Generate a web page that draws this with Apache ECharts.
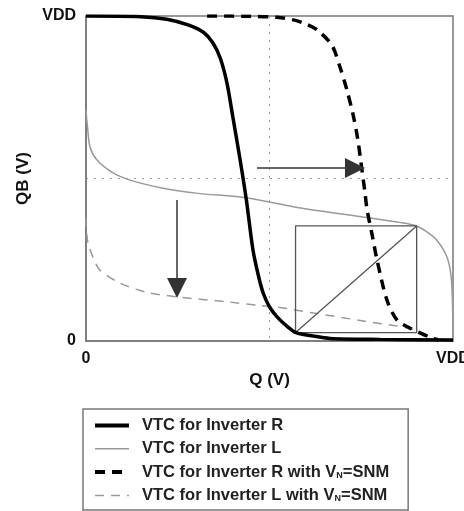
<!DOCTYPE html>
<html lang="en">
<head>
    <meta charset="UTF-8">
    <title>VTC butterfly</title>
    <style>
        * { padding: 0; margin: 0; box-sizing: border-box; }
        html, body, #chart { width: 100%; height: 100%; background: #fff; }
    </style>
</head>
<body>
    <div id="chart"></div>
    <script src="https://cdn.jsdelivr.net/npm/echarts@6/dist/echarts.min.js"></script>
    <script>
        // legend names
        const names = [
            'VTC for Inverter R',
            'VTC for Inverter L',
            'VTC for Inverter R with VN=SNM',
            'VTC for Inverter L with VN=SNM'
        ]

        // curves, x = Q / VDD, y = QB / VDD
        const vtcR = [[0, 1], [0.15, 0.998], [0.22, 0.99], [0.28, 0.972], [0.32, 0.95], [0.346, 0.917], [0.366, 0.87],
            [0.384, 0.794], [0.40, 0.69], [0.42, 0.557], [0.437, 0.434], [0.455, 0.28], [0.47, 0.2], [0.483, 0.147],
            [0.5, 0.105], [0.52, 0.075], [0.545, 0.048], [0.572, 0.026], [0.62, 0.015], [0.665, 0.008], [0.8, 0.005], [1, 0.003]]

        const vtcL = [[0, 0.71], [0.004, 0.66], [0.011, 0.597], [0.03, 0.557], [0.074, 0.517], [0.12, 0.495], [0.21, 0.47],
            [0.30, 0.455], [0.44, 0.44], [0.58, 0.41], [0.765, 0.38], [0.855, 0.365], [0.901, 0.354], [0.93, 0.335],
            [0.956, 0.31], [0.983, 0.26], [0.995, 0.197], [0.999, 0.1], [1, 0]]

        const vtcRsnm = [[0.33, 1], [0.45, 0.999], [0.52, 0.996], [0.565, 0.988], [0.6, 0.975], [0.63, 0.957], [0.67, 0.91],
            [0.692, 0.843], [0.711, 0.772], [0.728, 0.695], [0.74, 0.624], [0.749, 0.551], [0.76, 0.458], [0.766, 0.403],
            [0.78, 0.325], [0.793, 0.249], [0.82, 0.126], [0.847, 0.065], [0.877, 0.043], [0.91, 0.025], [0.943, 0.009], [0.96, 0.004]]

        const vtcLsnm = [[0, 0.38], [0.002, 0.33], [0.006, 0.30], [0.02, 0.255], [0.038, 0.218], [0.093, 0.178], [0.165, 0.15],
            [0.256, 0.135], [0.39, 0.12], [0.466, 0.11], [0.528, 0.103], [0.62, 0.086], [0.765, 0.06], [0.883, 0.038], [0.94, 0.01]]

        // SNM square with its diagonal
        const snmBox = [[0.571, 0.026], [0.901, 0.026], [0.901, 0.354], [0.571, 0.354], [0.571, 0.026], [0.901, 0.354]]

        // shift arrows
        const arrows = [
            [[0.466, 0.532], [0.733, 0.532]],
            [[0.248, 0.434], [0.248, 0.163]]
        ]

        const font = 'Liberation Sans, Arial, sans-serif'
        const chart = echarts.init(document.getElementById('chart'))

        const option = {
            animation: false,
            backgroundColor: '#fff',
            textStyle: { fontFamily: font },
            grid: {
                left: 86, top: 16, right: 11, bottom: 170,
                outerBoundsMode: 'none',
                containLabel: false,
                show: true, borderColor: '#777', borderWidth: 1.5
            },
            legend: {
                data: names.map((n, i) => ({
                    name: n,
                    lineStyle: { width: i % 2 === 0 ? 4 : 1.5 }
                })),
                orient: 'vertical',
                left: 83,
                top: 409,
                height: 200,
                itemWidth: 34,
                itemHeight: 14,
                itemGap: 6.3,
                padding: [8, 19, 6, 10],
                borderColor: '#777',
                borderWidth: 1.5,
                borderRadius: 0,
                selectedMode: false,
                itemStyle: { opacity: 0, borderWidth: 0, color: 'rgba(0,0,0,0)' },
                formatter: function (n) {
                    return n.replace('VN', 'V{sub|N}')
                },
                textStyle: {
                    fontFamily: font,
                    fontSize: 16.5,
                    fontWeight: 'bold',
                    color: '#222',
                    lineHeight: 16,
                    padding: [0, 0, 0, 8],
                    rich: {
                        sub: { fontSize: 9, fontWeight: 'bold', color: '#222', verticalAlign: 'bottom', padding: [5, 0, 0, 0] }
                    }
                }
            },
            xAxis: {
                type: 'value', min: 0, max: 1, interval: 0.5,
                name: 'Q (V)', nameLocation: 'middle', nameGap: 31,
                nameTextStyle: { fontFamily: font, fontSize: 17, fontWeight: 'bold', color: '#111' },
                axisLine: { lineStyle: { color: '#777', width: 1.5 } },
                axisTick: { show: false },
                axisLabel: {
                    margin: 10, fontFamily: font, fontSize: 16, fontWeight: 'bold', color: '#111',
                    formatter: v => v === 0 ? '0' : (v === 1 ? 'VDD' : '')
                },
                splitLine: { show: true, lineStyle: { type: [2, 6], color: '#999', width: 1 } }
            },
            yAxis: {
                type: 'value', min: 0, max: 1, interval: 0.5,
                name: 'QB (V)', nameLocation: 'middle', nameGap: 52, nameRotate: 90,
                nameTextStyle: { fontFamily: font, fontSize: 17, fontWeight: 'bold', color: '#111' },
                axisLine: { lineStyle: { color: '#777', width: 1.5 } },
                axisTick: { show: false },
                axisLabel: {
                    margin: 10, fontFamily: font, fontSize: 16, fontWeight: 'bold', color: '#111',
                    formatter: v => v === 0 ? '0' : (v === 1 ? 'VDD' : '')
                },
                splitLine: { show: true, lineStyle: { type: [2, 6], color: '#999', width: 1 } }
            },
            series: [
                {
                    name: names[1], type: 'line', data: vtcL, smooth: 0.3, symbol: 'none', z: 3,
                    lineStyle: { color: '#999', width: 1.5 }, itemStyle: { color: '#999' }
                },
                {
                    name: names[3], type: 'line', data: vtcLsnm, smooth: 0.3, symbol: 'none', z: 3,
                    lineStyle: { color: '#999', width: 1.5, type: [9, 7] }, itemStyle: { color: '#999' }
                },
                {
                    name: 'box', type: 'line', data: snmBox, symbol: 'none', z: 4,
                    lineStyle: { color: '#555', width: 1.3 }
                },
                {
                    name: names[2], type: 'line', data: vtcRsnm, smooth: 0.3, symbol: 'none', z: 5,
                    lineStyle: { color: '#000', width: 3.5, type: [10, 7] }, itemStyle: { color: '#000' }
                },
                {
                    name: names[0], type: 'line', data: vtcR, smooth: 0.3, symbol: 'none', z: 6,
                    lineStyle: { color: '#000', width: 3.5 }, itemStyle: { color: '#000' }
                },
                {
                    name: 'arrows', type: 'lines', coordinateSystem: 'cartesian2d', z: 7,
                    symbol: ['none', 'triangle'], symbolSize: [12, 20],
                    lineStyle: { color: '#333', width: 1.5, opacity: 1, curveness: 0 },
                    data: arrows.map(c => ({ coords: c }))
                }
            ]
        }
        chart.setOption(option)
    </script>
</body>
</html>
